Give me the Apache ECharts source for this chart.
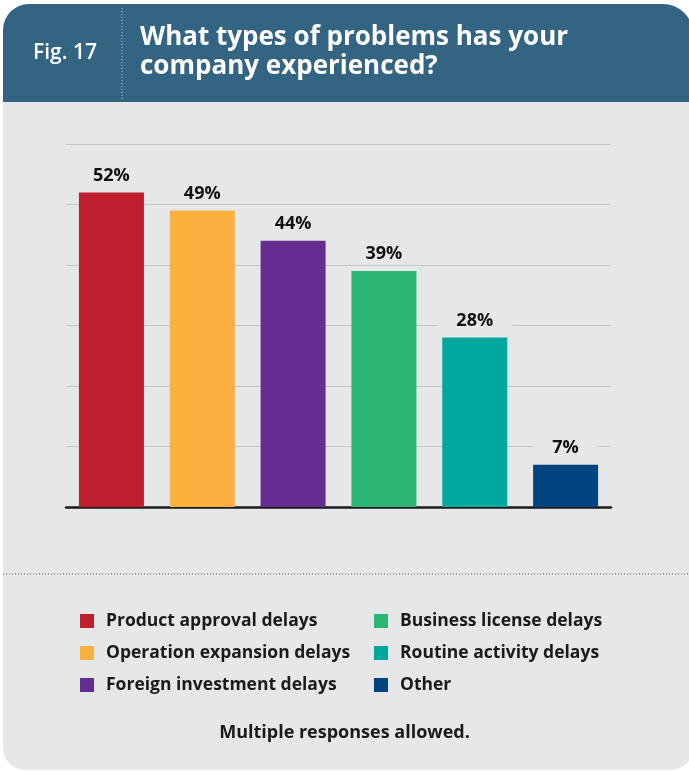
<!DOCTYPE html>
<html>
<head>
<meta charset="utf-8">
<script src="https://cdn.jsdelivr.net/npm/echarts@6/dist/echarts.min.js"></script>
<style>
  html, body { margin: 0; padding: 0; background: #ffffff; }
  #chart { width: 689px; height: 772px; }
</style>
</head>
<body>
<div id="chart"></div>
<script>
// Survey answers: share of companies reporting each problem type
const categories = [
  'Product approval delays',
  'Operation expansion delays',
  'Foreign investment delays',
  'Business license delays',
  'Routine activity delays',
  'Other'
];
const values = [52, 49, 44, 39, 28, 7];
const yTicks = [0, 10, 20, 30, 40, 50, 60];

const palette = ['#be1e2d', '#fbb040', '#662d91', '#2bb673', '#00a79d', '#00457f'];
const BG = '#e6e7e9';
const HEADER = '#336582';
const FONT = '"Open Sans"';

const chart = echarts.init(document.getElementById('chart'), null, { renderer: 'canvas' });

// one series per category so each bar gets its own legend entry
const series = categories.map((name, i) => ({
  name: name,
  type: 'bar',
  barWidth: 65,
  barGap: '-100%',
  itemStyle: { color: palette[i] },
  label: {
    show: true,
    position: 'top',
    distance: 7,
    formatter: '{c}%',
    fontFamily: FONT,
    fontSize: 18,
    fontWeight: 'bold',
    color: '#111111',
    backgroundColor: BG,
    padding: [1, 19],
    lineHeight: 18
  },
  data: values.map((v, j) => (j === i ? v : null))
}));

const legendText = {
  fontFamily: FONT, fontSize: 17.5, fontWeight: 'bold', color: '#1a1a1a',
  lineHeight: 20, padding: [0, 0, 0, 7]
};

chart.setOption({
  animation: false,
  backgroundColor: '#ffffff',
  textStyle: { fontFamily: FONT },
  grid: { left: 66, right: 78, top: 144, bottom: 265 },
  xAxis: {
    type: 'category',
    data: categories,
    axisLine: { show: true, lineStyle: { color: '#1a1a1a', width: 2.5 } },
    axisTick: { show: false },
    axisLabel: { show: false }
  },
  yAxis: {
    type: 'value',
    min: yTicks[0],
    max: yTicks[yTicks.length - 1],
    interval: 10,
    axisLine: { show: false },
    axisTick: { show: false },
    axisLabel: { show: false },
    splitLine: { lineStyle: { color: '#c6c7c9', width: 1.2 } }
  },
  legend: [
    {
      data: categories.slice(0, 3),
      orient: 'vertical',
      left: 75, top: 606,
      itemWidth: 14, itemHeight: 14, itemGap: 12,
      icon: 'rect',
      selectedMode: false,
      textStyle: legendText
    },
    {
      data: categories.slice(3),
      orient: 'vertical',
      left: 369, top: 606,
      itemWidth: 14, itemHeight: 14, itemGap: 12,
      icon: 'rect',
      selectedMode: false,
      textStyle: legendText
    }
  ],
  graphic: [
    // card body
    { type: 'rect', z: -10, shape: { x: 3, y: 90, width: 690, height: 680, r: [0, 0, 22, 22] }, style: { fill: BG } },
    // header band
    { type: 'rect', z: -9, shape: { x: 3, y: 4, width: 690, height: 98, r: [26, 30, 0, 0] }, style: { fill: HEADER } },
    // dotted divider in header
    { type: 'line', z: -8, shape: { x1: 122, y1: 8, x2: 122, y2: 100 }, style: { stroke: '#c9d6df', lineWidth: 1, lineDash: [1, 2] } },
    { type: 'text', z: -7, left: 33, top: 43, style: { text: 'Fig. 17', fill: '#ffffff', font: '600 21px ' + FONT } },
    { type: 'text', z: -7, left: 140, top: 23, style: { text: 'What types of problems has your\ncompany experienced?', fill: '#ffffff', font: 'bold 26px ' + FONT, lineHeight: 29 } },
    // dotted separator above legend
    { type: 'line', z: -8, shape: { x1: 3, y1: 574, x2: 689, y2: 574 }, style: { stroke: '#555555', lineWidth: 1, lineDash: [1, 2] } },
    { type: 'text', z: -7, left: 'center', top: 724, style: { text: 'Multiple responses allowed.', fill: '#1a1a1a', font: 'bold 18px ' + FONT } }
  ],
  series: series
});
</script>
</body>
</html>
